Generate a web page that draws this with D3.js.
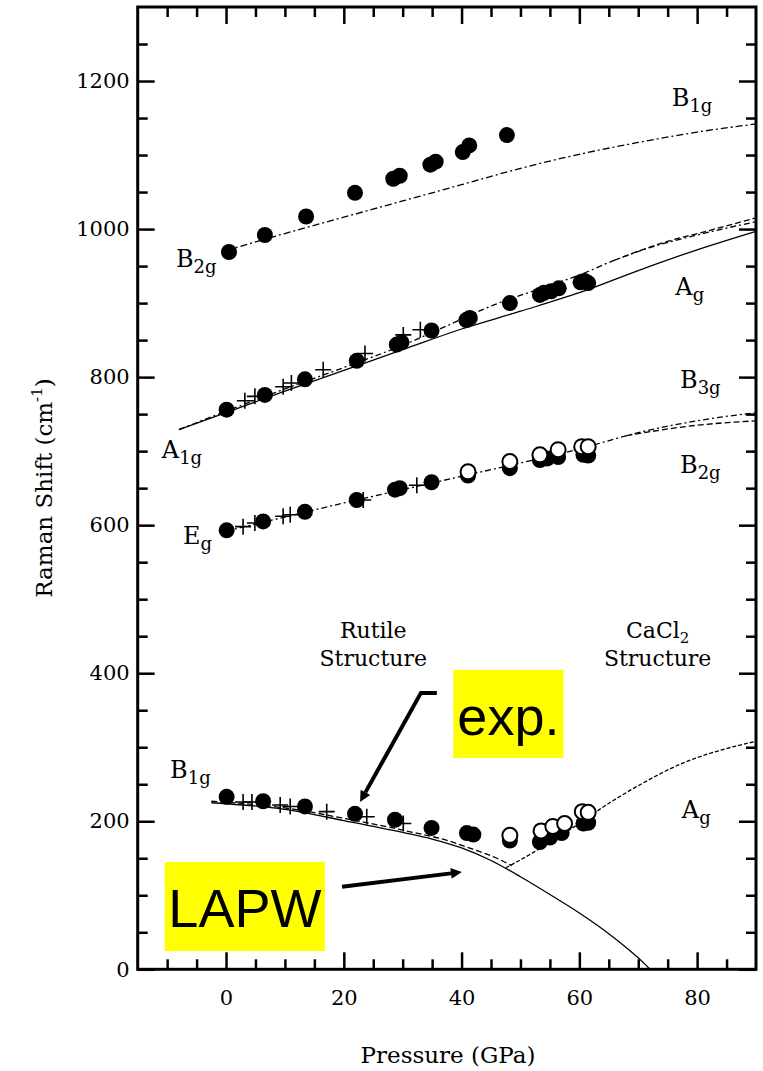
<!DOCTYPE html>
<html>
<head>
<meta charset="utf-8">
<script src="https://cdn.jsdelivr.net/npm/d3@7"></script>
<style>
  body { margin: 0; background: #fff; }
  svg { display: block; }
  text { fill: #000; }
</style>
</head>
<body>
<svg id="chart" width="763" height="1071"></svg>
<script>
/* Raman shift vs pressure: rutile -> CaCl2 structure */

// --- Data: [pressure GPa, shift cm-1] ---
const b2gExp = [[0.5,969],[6.6,992],[13.6,1017],[21.9,1049],[28.4,1068],[29.5,1072],[34.7,1087],[35.6,1091],[40.2,1104],[41.3,1113],[47.7,1127]];
const b2gCalc = [[0,971],[10,994],[20,1016],[30,1038],[40,1060],[50,1082],[60,1101],[70,1117],[80,1131],[90,1142]];

const a1gExp = [[0.1,756],[6.6,776],[13.4,797],[22.2,822],[29,844],[29.8,847],[34.9,863],[40.8,877],[41.4,880],[48.2,900],[53.3,911],[54,914],[55.2,916],[56.5,920],[60.2,928],[60.9,930],[61.5,927]];
const a1gCross = [[3.2,768],[4.9,774],[9.7,787],[11.1,792],[16.5,810],[23.6,832],[30.1,857],[33,864]];
const a1gCalc = [[-8,729],[0,752],[10,781],[20,809],[30,837],[40,865],[50,889],[60,914],[70,944],[80,972],[90,997]];
const a1gCalc2 = [[-8,729],[0,754],[10,784],[20,813],[30,843],[38,871],[45,896],[52,916],[60,938],[66,958],[72,975],[80,992],[90,1010]];
const a1gCalc3 = [[66,958],[74,981],[82,998],[90,1015]];

const egExp = [[0.1,593],[6.3,605],[13.4,618],[22.2,634],[28.7,648],[29.5,650],[34.9,658],[41.1,667],[48.2,677],[53.3,688],[54.5,690],[56.4,692],[60.7,695],[61.5,694]];
const egOpen = [[41.1,672],[48.2,686],[53.3,695],[56.4,702],[60.4,706],[61.5,706]];
const egCross = [[2.9,598],[4.9,603],[9.7,612],[10.9,614],[23.3,634],[32.4,654]];
const egCalc = [[0,592],[10,611],[20,630],[30,648],[40,666],[50,684],[60,703],[70,725],[80,741],[90,752]];
const egCalc2 = [[68,721],[80,735],[90,741]];

const b1gExp = [[0.1,233],[6.3,227],[13.4,220],[21.9,210],[28.7,202],[34.9,191],[40.9,184],[42,182],[48.2,174],[53.3,172],[55,178],[57,184],[60.7,197],[61.5,198]];
const b1gOpen = [[48.2,181],[53.5,187],[55.5,193],[57.5,197],[60.5,213],[61.5,212]];
const b1gCross = [[2.9,226],[4.4,226],[9.2,222],[10.9,220],[17.1,213],[23.9,206],[30.1,197]];
const b1gCalc = [[-2.5,225],[10,216],[20,201],[30,185],[35,176],[40,164],[45,147],[50,125],[55,101],[60,76],[65,48],[68,29],[71,8],[72,0]];
const b1gCalc2 = [[-2.5,227],[10,218],[20,204],[30,188],[38,173],[42,162],[46,150],[48.5,140]];
const agCalc = [[47.5,137],[52,157],[56,177],[60,197],[64,219],[70,248],[78,280],[84,296],[90,308]];

const xTicks = [0, 20, 40, 60, 80];
const yTicks = [0, 200, 400, 600, 800, 1000, 1200];

const modeLabels = [
  { main: "B", sub: "1g", p: 75.7, s: 1166 },
  { main: "B", sub: "2g", p: -8.5, s: 949 },
  { main: "A", sub: "1g", p: -10.9, s: 691 },
  { main: "E", sub: "g", p: -7.3, s: 575 },
  { main: "A", sub: "g", p: 76.3, s: 911 },
  { main: "B", sub: "3g", p: 77.1, s: 785 },
  { main: "B", sub: "2g", p: 77.1, s: 671 },
  { main: "B", sub: "1g", p: -9.5, s: 258 },
  { main: "A", sub: "g", p: 77.4, s: 205 }
];

const SERIF = "'DejaVu Serif', serif";
const SANS = "'Liberation Sans', Arial, sans-serif";

// --- Setup ---
const svg = d3.select("#chart");
const x = d3.scaleLinear().domain([-15, 90]).range([137.7, 756]);
const y = d3.scaleLinear().domain([0, 1300]).range([969.3, 7]);
const line = d3.line().x((d) => x(d[0])).y((d) => y(d[1])).curve(d3.curveMonotoneX);

const xMinor = d3.range(-10, 90, 5).filter((v) => !xTicks.includes(v));
const yMinor = d3.range(50, 1300, 50).filter((v) => !yTicks.includes(v));

// --- Frame and ticks (inward on all four sides) ---
function tickAxis(axisFn, scale, values, size, at, isX) {
  const g = svg.append("g")
    .attr("transform", isX ? `translate(0,${at})` : `translate(${at},0)`)
    .call(axisFn(scale).tickValues(values).tickSize(size).tickSizeOuter(0).tickFormat(""));
  g.select(".domain").remove();
  g.selectAll("line").attr("stroke", "#000").attr("stroke-width", 2.5);
  return g;
}
[[d3.axisBottom, y(0)], [d3.axisTop, y(1300)]].forEach(([fn, at]) => {
  tickAxis(fn, x, xTicks, -17, at, true);
  tickAxis(fn, x, xMinor, -10, at, true);
});
[[d3.axisLeft, x(-15)], [d3.axisRight, x(90)]].forEach(([fn, at]) => {
  tickAxis(fn, y, yTicks, -17, at, false);
  tickAxis(fn, y, yMinor, -10, at, false);
});

svg.append("rect")
  .attr("x", x(-15)).attr("y", y(1300))
  .attr("width", x(90) - x(-15)).attr("height", y(0) - y(1300))
  .attr("fill", "none").attr("stroke", "#000").attr("stroke-width", 3);

// Tick labels
const xLab = svg.append("g")
  .attr("transform", `translate(0,${y(0)})`)
  .call(d3.axisBottom(x).tickValues(xTicks).tickSize(0).tickPadding(21).tickFormat(d3.format("d")));
xLab.select(".domain").remove();
const yLab = svg.append("g")
  .attr("transform", `translate(${x(-15)},0)`)
  .call(d3.axisLeft(y).tickValues(yTicks).tickSize(0).tickPadding(8).tickFormat(d3.format("d")));
yLab.select(".domain").remove();
svg.selectAll(".tick text")
  .style("font-family", SERIF)
  .style("font-size", "21px")
  .attr("fill", "#000");

// Axis titles
svg.append("text")
  .attr("x", 448).attr("y", 1063)
  .attr("text-anchor", "middle")
  .style("font-family", SERIF)
  .style("font-size", "23px")
  .text("Pressure (GPa)");

const yt = svg.append("text")
  .attr("transform", "translate(52,488) rotate(-90)")
  .attr("text-anchor", "middle")
  .style("font-family", SERIF)
  .style("font-size", "23px");
yt.append("tspan").text("Raman Shift (cm");
yt.append("tspan").style("font-size", "15px").attr("dy", -10).text("-1");
yt.append("tspan").attr("dy", 10).text(")");

// --- Calculated curves ---
const curves = [
  { pts: b2gCalc, dash: "7,3,2,3" },
  { pts: a1gCalc, dash: null },
  { pts: a1gCalc2, dash: "6,3,2,3" },
  { pts: a1gCalc3, dash: "6,3" },
  { pts: egCalc, dash: "6,3,2,3" },
  { pts: egCalc2, dash: "6,3" },
  { pts: b1gCalc, dash: null },
  { pts: b1gCalc2, dash: "6,3" },
  { pts: agCalc, dash: "4,2" }
];
svg.append("g")
  .selectAll("path")
  .data(curves)
  .join("path")
  .attr("d", (d) => line(d.pts))
  .attr("fill", "none")
  .attr("stroke", "#000")
  .attr("stroke-width", 1.3)
  .attr("stroke-dasharray", (d) => d.dash);

// --- Experimental points ---
const crosses = [].concat(a1gCross, egCross, b1gCross);
svg.append("g")
  .selectAll("path")
  .data(crosses)
  .join("path")
  .attr("transform", (d) => `translate(${x(d[0])},${y(d[1])})`)
  .attr("d", "M-8,0H8M0,-8V8")
  .attr("stroke", "#000")
  .attr("stroke-width", 1.6);

const filled = [].concat(b2gExp, a1gExp, egExp, b1gExp);
svg.append("g")
  .selectAll("circle")
  .data(filled)
  .join("circle")
  .attr("cx", (d) => x(d[0]))
  .attr("cy", (d) => y(d[1]))
  .attr("r", 8)
  .attr("fill", "#000");

const open = [].concat(egOpen, b1gOpen);
svg.append("g")
  .selectAll("circle")
  .data(open)
  .join("circle")
  .attr("cx", (d) => x(d[0]))
  .attr("cy", (d) => y(d[1]))
  .attr("r", 7.5)
  .attr("fill", "#fff")
  .attr("stroke", "#000")
  .attr("stroke-width", 2);

// --- Mode labels ---
const ml = svg.append("g")
  .selectAll("text")
  .data(modeLabels)
  .join("text")
  .attr("x", (d) => x(d.p))
  .attr("y", (d) => y(d.s))
  .style("font-family", SERIF)
  .style("font-size", "24px");
ml.append("tspan").text((d) => d.main);
ml.append("tspan").style("font-size", "18px").attr("dy", 6).text((d) => d.sub);

// Structure labels
function structLabel(p, s, first, sub) {
  const t = svg.append("text")
    .attr("x", x(p)).attr("y", y(s))
    .attr("text-anchor", "middle")
    .style("font-family", SERIF)
    .style("font-size", "22px");
  t.append("tspan").text(first);
  if (sub) t.append("tspan").style("font-size", "15px").attr("dy", 5).text(sub);
  svg.append("text")
    .attr("x", x(p)).attr("y", y(s) + 28)
    .attr("text-anchor", "middle")
    .style("font-family", SERIF)
    .style("font-size", "22px")
    .text("Structure");
}
structLabel(25, 448, "Rutile");
structLabel(73.3, 448, "CaCl", "2");

// --- Annotations: exp. / LAPW ---
svg.append("defs").append("marker")
  .attr("id", "head")
  .attr("viewBox", "0 0 10 10")
  .attr("refX", 0).attr("refY", 5)
  .attr("markerWidth", 13).attr("markerHeight", 11)
  .attr("markerUnits", "userSpaceOnUse")
  .attr("orient", "auto")
  .append("path").attr("d", "M0,0L10,5L0,10z").attr("fill", "#000");

const boxes = [
  { text: "exp.", p0: 38.6, p1: 57.3, s0: 404.5, s1: 285.5, tp: 47.95, ts: 316.6 },
  { text: "LAPW", p0: -10.4, p1: 16.8, s0: 145, s1: 24.7, tp: 3.2, ts: 57 }
];
boxes.forEach((b) => {
  svg.append("rect")
    .attr("x", x(b.p0)).attr("y", y(b.s0))
    .attr("width", x(b.p1) - x(b.p0)).attr("height", y(b.s1) - y(b.s0))
    .attr("fill", "#ffff00");
  svg.append("text")
    .attr("x", x(b.tp)).attr("y", y(b.ts))
    .attr("text-anchor", "middle")
    .style("font-family", SANS)
    .style("font-size", "54px")
    .text(b.text);
});

const arrows = [
  [[35.8,373.4],[33.1,373.4],[23.67,239]],
  [[19.7,111.4],[38.2,129.6]]
];
const straight = d3.line().x((d) => x(d[0])).y((d) => y(d[1]));
svg.append("g")
  .selectAll("path")
  .data(arrows)
  .join("path")
  .attr("d", straight)
  .attr("fill", "none")
  .attr("stroke", "#000")
  .attr("stroke-width", 4)
  .attr("marker-end", "url(#head)");
</script>
</body>
</html>
